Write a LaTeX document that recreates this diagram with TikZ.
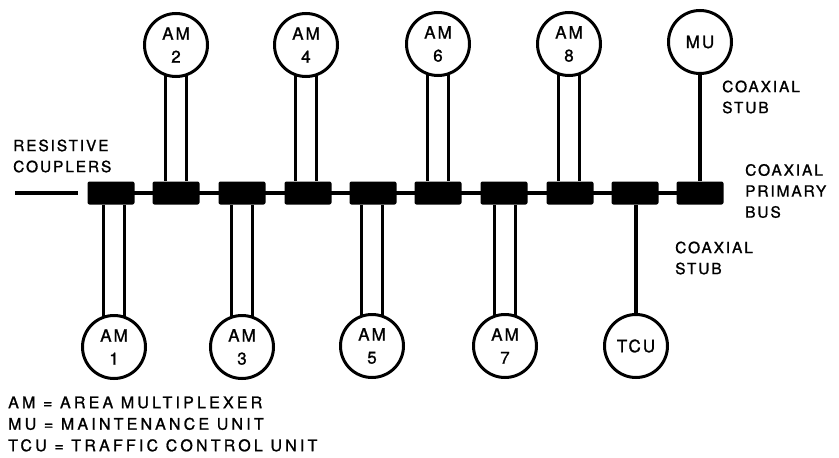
\documentclass[tikz,border=0pt]{standalone}
\usepackage{fontspec}
\setmainfont{TeX Gyre Heros}[LetterSpace=12,FakeBold=1.2]
\newfontfamily\keyfont{TeX Gyre Heros}[LetterSpace=20,FakeBold=1.2]
\begin{document}
\begin{tikzpicture}[x=1pt,y=-1pt,
  wire/.style={line width=3.2pt},
  coupler/.style={draw=none,fill=black,minimum width=47pt,minimum height=23pt,rounded corners=2pt,inner sep=0pt},
  unit/.style={circle,draw,line width=3pt,minimum size=63pt,inner sep=0pt,align=center,font=\fontsize{17}{23}\selectfont},
  label/.style={align=left,anchor=west,inner sep=0pt,font=\fontsize{15.5}{21}\selectfont}]
\useasboundingbox (0,0) rectangle (839,458);
\fill[white] (0,0) rectangle (839,458);

% positions of the resistive couplers along the primary bus
\foreach \i/\x in {1/111,2/176,3/242,4/308,5/373,6/438,7/504,8/570,9/635,10/700}
  \coordinate (b\i) at (\x,193);

% units above and below the bus
\node[unit] (am2) at (176,45) {AM\\2};
\node[unit] (am4) at (306,45) {AM\\4};
\node[unit] (am6) at (438,44) {AM\\6};
\node[unit] (am8) at (569,44) {AM\\8};
\node[unit] (mu)  at (700,42) {MU};
\node[unit] (am1) at (114,347) {AM\\1};
\node[unit] (am3) at (242,347) {AM\\3};
\node[unit] (am5) at (372,346) {AM\\5};
\node[unit] (am7) at (505,346) {AM\\7};
\node[unit] (tcu) at (636,346) {TCU};

% primary bus, then the couplers on top of it
\coordinate (busL) at (15,193);
\coordinate (busR) at (78,193);
\draw[wire] (busL) -- (busR);
\draw[wire] (b1) -- (b10);
\foreach \i in {1,...,10} \node[coupler] (c\i) at (b\i) {};

% twin-lead stubs to the area multiplexers
\foreach \u/\b in {am2/c2,am4/c4,am6/c6,am8/c8} {
  \draw[wire] (\u.-109) -- (\u.-109 |- \b.north);
  \draw[wire] (\u.-71) -- (\u.-71 |- \b.north);
}
\foreach \u/\b in {am1/c1,am3/c3,am5/c5,am7/c7} {
  \draw[wire] (\u.109) -- (\u.109 |- \b.south);
  \draw[wire] (\u.71) -- (\u.71 |- \b.south);
}
% coaxial stubs
\draw[wire] (mu.south) -- (mu.south |- c10.north);
\draw[wire] (tcu.north) -- (tcu.north |- c9.south);

% annotations
\node[label] (rc) at (13,156) {RESISTIVE\\COUPLERS};
\node[label] (cs1) at (722,97) {COAXIAL\\STUB};
\node[label] (cpb) at (745,191) {COAXIAL\\PRIMARY\\BUS};
\node[label] (cs2) at (675,258) {COAXIAL\\STUB};
\node[label,font=\keyfont\fontsize{16}{21.5}\selectfont] (key) at (8,424) {AM = AREA MULTIPLEXER\\MU = MAINTENANCE UNIT\\TCU = TRAFFIC CONTROL UNIT};
\end{tikzpicture}
\end{document}
